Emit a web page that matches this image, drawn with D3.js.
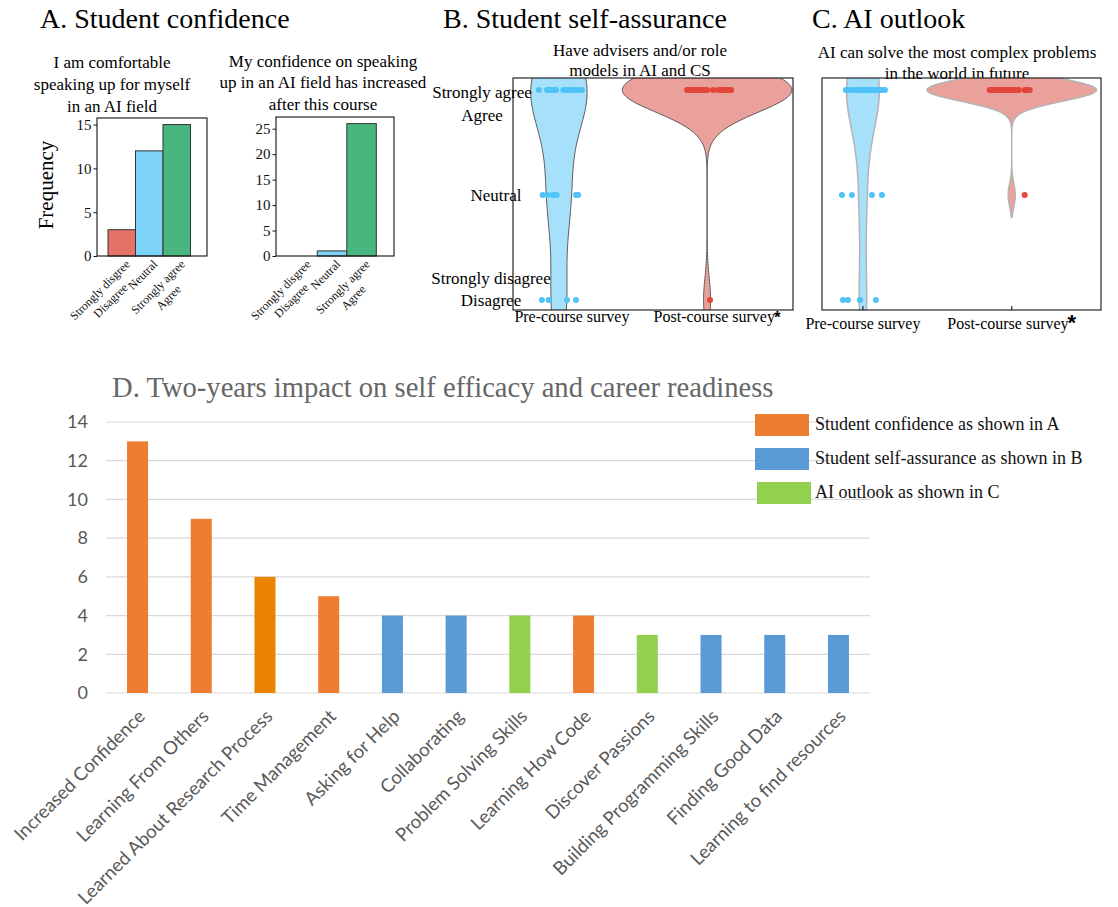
<!DOCTYPE html>
<html>
<head>
<meta charset="utf-8">
<script src="https://cdn.jsdelivr.net/npm/d3@7"></script>
<style>
  body { margin: 0; background: #fff; }
  svg { display: block; }
</style>
</head>
<body>
<svg id="fig" width="1118" height="907"></svg>
<script>
// ---------- Panel A: histograms of Likert responses ----------
const likertBins = ["Strongly disgree\nDisagree", "Neutral", "Strongly agree\nAgree"];
const comfortCounts = [3, 12, 15];
const confidenceCounts = [0, 1, 26];
const comfortTicks = [0, 5, 10, 15];
const confidenceTicks = [0, 5, 10, 15, 20, 25];
const comfortTitle = ["I am comfortable", "speaking up for myself", "in an AI field"];
const confidenceTitle = ["My confidence on speaking", "up in an AI field has increased", "after this course"];

// ---------- Panels B and C: responses (1 = disagree, 2 = neutral, 3 = agree) ----------
// each entry is one respondent; the number is its strip-plot jitter in category units
const surveyGroups = ["Pre-course survey", "Post-course survey"];
const adviserPreAgree = [-0.135, -0.08, -0.07, -0.055, -0.045, -0.03, -0.02, 0.03, 0.05, 0.06, 0.08, 0.09, 0.11, 0.13, 0.155];
const adviserPreNeutral = [-0.11, -0.08, -0.04, -0.015, 0.115, 0.13];
const adviserPreDisagree = [-0.115, -0.07, 0.055, 0.115];
const adviserPostAgree = [-0.135, -0.128, -0.115, -0.108, -0.095, -0.088, -0.074, -0.068, -0.054, -0.047, -0.034, -0.027, -0.014, 0, 0.04, 0.074, 0.081, 0.095, 0.101, 0.115, 0.122, 0.135, 0.149, 0.162];
const adviserPostNeutral = [];
const adviserPostDisagree = [0.02];

const outlookPreAgree = [-0.114, -0.094, -0.067, -0.047, -0.034, -0.02, -0.007, 0.007, 0.02, 0.034, 0.047, 0.06, 0.074, 0.087, 0.101, 0.114, 0.128, 0.148];
const outlookPreNeutral = [-0.141, -0.074, 0.06, 0.128];
const outlookPreDisagree = [-0.134, -0.101, -0.02, 0.087];
const outlookPostAgree = [-0.148, -0.141, -0.128, -0.121, -0.107, -0.101, -0.087, -0.081, -0.067, -0.06, -0.047, -0.04, -0.027, -0.02, -0.007, 0, 0.013, 0.02, 0.034, 0.047, 0.087, 0.101, 0.107, 0.121];
const outlookPostNeutral = [0.087];
const outlookPostDisagree = [];

// ---------- Panel D: two-year follow-up ----------
const impactSkills = ["Increased Confidence", "Learning From Others", "Learned About Research Process",
  "Time Management", "Asking for Help", "Collaborating", "Problem Solving Skills", "Learning How Code",
  "Discover Passions", "Building Programming Skills", "Finding Good Data", "Learning to find resources"];
const impactCounts = [13, 9, 6, 5, 4, 4, 4, 4, 3, 3, 3, 3];
const impactSource = ["A", "A", "A", "A", "B", "B", "C", "A", "C", "B", "B", "B"];
const sourceKeys = ["A", "B", "C"];
const sourceLabels = ["Student confidence as shown in A", "Student self-assurance as shown in B", "AI outlook as shown in C"];
const impactTicks = [0, 2, 4, 6, 8, 10, 12, 14];

// ---------- styling ----------
const serif = "'Liberation Serif', 'Times New Roman', serif";
const sans = "Lato, 'Open Sans', sans-serif";
const histColors = ["#e5736a", "#7dd2f7", "#4ab67f"];
const sourceColors = { A: "#ed7d31", B: "#5b9bd5", C: "#92d050" };
const researchShade = "#e98300";

const svg = d3.select("#fig");
svg.append("rect").attr("width", 1118).attr("height", 907).attr("fill", "#fff");

function heading(x, y, text, size, color) {
  svg.append("text").attr("x", x).attr("y", y).attr("font-family", serif)
    .attr("font-size", size).attr("fill", color || "#000").text(text);
}
function centredLines(cx, ys, lines, size) {
  lines.forEach((s, i) => svg.append("text").attr("x", cx).attr("y", ys[i]).attr("dy", "0.35em")
    .attr("text-anchor", "middle").attr("font-family", serif).attr("font-size", size).text(s));
}

// ================= A =================
heading(40, 28, "A. Student confidence", 28);

function histogram(frame, counts, ticks, titleLines, titleX, titleYs) {
  const g = svg.append("g");
  const x = d3.scaleBand().domain(likertBins)
    .range([frame.l + 0.1 * (frame.r - frame.l), frame.r - 0.15 * (frame.r - frame.l)]).padding(0);
  const y = d3.scaleLinear().domain([0, d3.max(counts) * 1.05]).range([frame.b, frame.t]);

  g.selectAll("rect.bar").data(counts).join("rect").attr("class", "bar")
    .attr("x", (d, i) => x(likertBins[i])).attr("width", x.bandwidth())
    .attr("y", d => y(d)).attr("height", d => y(0) - y(d))
    .attr("fill", (d, i) => histColors[i]).attr("stroke", "#333").attr("stroke-width", 1);

  g.append("rect").attr("x", frame.l).attr("y", frame.t)
    .attr("width", frame.r - frame.l).attr("height", frame.b - frame.t)
    .attr("fill", "none").attr("stroke", "#111").attr("stroke-width", 1.1);

  const ax = g.append("g").attr("transform", `translate(${frame.l},0)`)
    .call(d3.axisLeft(y).tickValues(ticks).tickSize(3.5).tickPadding(2));
  ax.select(".domain").remove();
  ax.selectAll("text").attr("font-family", serif).attr("font-size", 15).attr("fill", "#111");
  ax.selectAll("line").attr("stroke", "#111");

  likertBins.forEach(lbl => {
    const lines = lbl.split("\n");
    const t = g.append("g")
      .attr("transform", `translate(${x(lbl) + x.bandwidth() / 2 + 6},${frame.b + 6}) rotate(-45)`)
      .attr("font-family", serif).attr("font-size", 12).attr("fill", "#111");
    const first = t.append("text").attr("text-anchor", "end").attr("dy", "0.35em").text(lines[0]);
    const w = first.node().getComputedTextLength();
    lines.slice(1).forEach((s, i) => t.append("text").attr("x", -w / 2).attr("y", (i + 1) * 15)
      .attr("dy", "0.35em").attr("text-anchor", "middle").text(s));
  });
  centredLines(titleX, titleYs, titleLines, 17);
}

histogram({ l: 97, r: 207, t: 118, b: 256 }, comfortCounts, comfortTicks, comfortTitle, 112, [62, 84, 106]);
histogram({ l: 276, r: 394, t: 117, b: 256 }, confidenceCounts, confidenceTicks, confidenceTitle, 323, [61, 82, 104]);

svg.append("text").attr("transform", "translate(46,185) rotate(-90)").attr("dy", "0.35em")
  .attr("text-anchor", "middle").attr("font-family", serif).attr("font-size", 21).text("Frequency");

// ================= B & C: violins =================
function gauss(u) { return Math.exp(-u * u / 2) / Math.sqrt(2 * Math.PI); }
function kde(values) {
  const n = values.length;
  const bw = d3.deviation(values) * Math.pow(n, -0.2);        // Scott's rule
  const lo = d3.min(values) - 2 * bw, hi = d3.max(values) + 2 * bw;
  return d3.range(101).map(i => {
    const v = lo + (hi - lo) * i / 100;
    return [v, d3.mean(values, s => gauss((v - s) / bw)) / bw];
  });
}

const violinFill = ["#a7e0fa", "#eba19b"];
const dotFill = ["#4fc3f7", "#e2463a"];
let clipId = 0;

function violinPanel(cfg) {
  const g = svg.append("g");
  const f = cfg.frame;
  const x = d3.scaleLinear().domain(cfg.xDomain).range([f.l, f.r]);
  const y = d3.scaleLinear().domain([0.905, 3.114]).range([f.b, f.t]);

  const groups = cfg.groups.map(gr => {
    const dots = [...gr.agree.map(j => ({ v: 3, j })), ...gr.neutral.map(j => ({ v: 2, j })),
                  ...gr.disagree.map(j => ({ v: 1, j }))];
    return { dots, dens: kde(dots.map(d => d.v)) };
  });
  const maxD = d3.max(groups, gr => d3.max(gr.dens, d => d[1]));
  const half = d3.scaleLinear().domain([0, maxD]).range([0, 85]);

  const id = "clip" + (clipId++);
  g.append("clipPath").attr("id", id).append("rect")
    .attr("x", f.l).attr("y", f.t).attr("width", f.r - f.l).attr("height", f.b - f.t);
  const vg = g.append("g").attr("clip-path", `url(#${id})`);

  groups.forEach((gr, i) => {
    const cx = x(i);
    const area = d3.area().curve(d3.curveBasis)
      .y(d => y(d[0])).x0(d => cx - half(d[1])).x1(d => cx + half(d[1]));
    vg.append("path").datum(gr.dens).attr("d", area)
      .attr("fill", violinFill[i]).attr("stroke", cfg.edge).attr("stroke-width", cfg.edgeWidth);
  });
  groups.forEach((gr, i) => {
    g.selectAll(null).data(gr.dots).join("circle")
      .attr("cx", d => x(i + d.j)).attr("cy", d => y(d.v)).attr("r", 3)
      .attr("fill", dotFill[i]);
  });

  g.append("rect").attr("x", f.l).attr("y", f.t).attr("width", f.r - f.l).attr("height", f.b - f.t)
    .attr("fill", "none").attr("stroke", "#111").attr("stroke-width", 1.1);
  if (cfg.ticks) {
    [0, 1].forEach(i => g.append("line").attr("x1", x(i)).attr("x2", x(i))
      .attr("y1", f.b).attr("y2", f.b - 4).attr("stroke", "#222").attr("stroke-width", 1.2));
  }

  // group labels under the frame
  surveyGroups.forEach((name, i) => {
    const t = g.append("text").attr("x", x(i) + cfg.labelShift[i]).attr("y", cfg.labelY)
      .attr("dy", "0.35em").attr("text-anchor", "middle")
      .attr("font-family", serif).attr("font-size", 16).text(name);
    if (i === 1) {
      t.append("tspan").attr("font-family", "'Liberation Sans', sans-serif").attr("font-weight", "bold")
        .attr("font-size", cfg.starSize).attr("dx", "-1").attr("dy", cfg.starLift).text("*");
    }
  });
  return y;
}

heading(443, 28, "B. Student self-assurance", 28);
centredLines(640, [50, 70], ["Have advisers and/or role", "models in AI and CS"], 17);
const yB = violinPanel({
  frame: { l: 513, r: 793, t: 78, b: 310 }, xDomain: [-0.31, 1.58],
  groups: [
    { agree: adviserPreAgree, neutral: adviserPreNeutral, disagree: adviserPreDisagree },
    { agree: adviserPostAgree, neutral: adviserPostNeutral, disagree: adviserPostDisagree }
  ],
  edge: "#5e5e5e", edgeWidth: 1, ticks: false, labelShift: [13, 10], labelY: 316, starSize: 17, starLift: 1
});
// response-level labels
[["Strongly agree", 3, 482, 2], ["Agree", 3, 482, 25], ["Neutral", 2, 496, 0],
 ["Strongly disagree", 1, 491, -22], ["Disagree", 1, 491, 0]].forEach(([s, v, cx, off]) => {
  svg.append("text").attr("x", cx).attr("y", yB(v) + off).attr("dy", "0.35em")
    .attr("text-anchor", "middle").attr("font-family", serif).attr("font-size", 17).text(s);
});

heading(812, 28, "C. AI outlook", 28);
centredLines(957, [52, 73], ["AI can solve the most complex problems", "in the world in future"], 17);
violinPanel({
  frame: { l: 822, r: 1101, t: 78, b: 310 }, xDomain: [-0.275, 1.6],
  groups: [
    { agree: outlookPreAgree, neutral: outlookPreNeutral, disagree: outlookPreDisagree },
    { agree: outlookPostAgree, neutral: outlookPostNeutral, disagree: outlookPostDisagree }
  ],
  edge: "#b4b4b4", edgeWidth: 1.5, ticks: true, labelShift: [0, 0], labelY: 323, starSize: 22, starLift: 1
});

// ================= D: follow-up bar chart =================
heading(112, 397, "D. Two-years impact on self efficacy and career readiness", 28.6, "#666");

const xD = d3.scaleBand().domain(impactSkills).range([106, 870]).paddingInner(0.67).paddingOuter(0.33);
const yD = d3.scaleLinear().domain([0, 14]).range([693, 422]);
const gD = svg.append("g");

gD.selectAll("line.grid").data(impactTicks).join("line").attr("class", "grid")
  .attr("x1", 106).attr("x2", 870).attr("y1", d => yD(d)).attr("y2", d => yD(d))
  .attr("stroke", "#d9d9d9").attr("stroke-width", 1.2);
gD.selectAll("text.ytick").data(impactTicks).join("text").attr("class", "ytick")
  .attr("x", 88).attr("y", d => yD(d)).attr("dy", "0.35em").attr("text-anchor", "end")
  .attr("font-family", sans).attr("font-size", 18).attr("fill", "#595959").text(d => d);

const barColor = (s, i) => s === "Learned About Research Process" ? researchShade : sourceColors[impactSource[i]];
gD.selectAll("rect.bar").data(impactSkills).join("rect").attr("class", "bar")
  .attr("x", d => xD(d)).attr("width", xD.bandwidth())
  .attr("y", (d, i) => yD(impactCounts[i])).attr("height", (d, i) => yD(0) - yD(impactCounts[i]))
  .attr("fill", barColor);

impactSkills.forEach(s => {
  svg.append("text")
    .attr("transform", `translate(${xD(s) + xD.bandwidth() / 2 + 4},${yD(0) + 20}) rotate(-45)`)
    .attr("dy", "0.35em").attr("text-anchor", "end")
    .attr("font-family", sans).attr("font-size", 18.6).attr("fill", "#595959").text(s);
});

// legend
const legend = svg.append("g").attr("transform", "translate(755,425)");
sourceKeys.forEach((k, i) => {
  const row = legend.append("g").attr("transform", `translate(${i === 2 ? 2 : 0},${i * 34})`);
  row.append("rect").attr("x", 0).attr("y", -11).attr("width", 54).attr("height", 22).attr("fill", sourceColors[k]);
  row.append("text").attr("x", i === 2 ? 58 : 60).attr("y", -1).attr("dy", "0.35em")
    .attr("font-family", serif).attr("font-size", 18).attr("fill", "#111").text(sourceLabels[i]);
});
</script>
</body>
</html>
